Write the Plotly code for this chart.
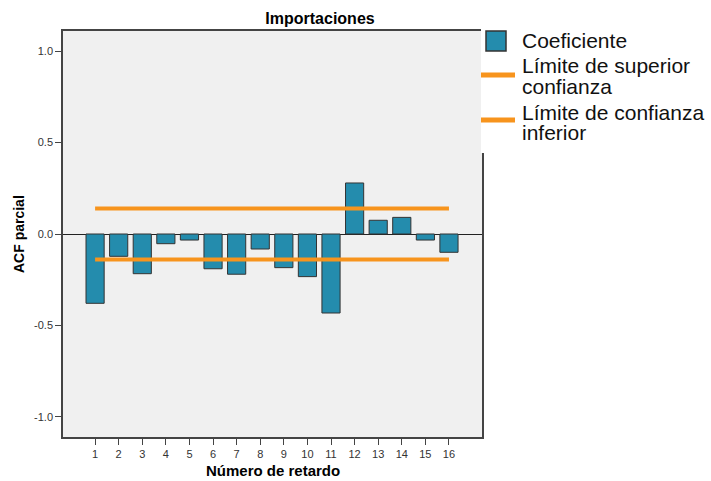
import plotly.graph_objects as go

lags = list(range(1, 17))
pacf = [-0.379, -0.122, -0.217, -0.053, -0.033, -0.190, -0.220, -0.082,
        -0.184, -0.233, -0.432, 0.279, 0.075, 0.091, -0.033, -0.100]
upper_limit = [0.14] * 16
lower_limit = [-0.14] * 16
y_tickvals = [-1.0, -0.5, 0.0, 0.5, 1.0]
y_ticktext = ["-1.0", "-0.5", "0.0", "0.5", "1.0"]
legend_labels = ["Coeficiente", "Límite de superior", "confianza",
                 "Límite de confianza", "inferior"]

BAR = "#248cad"
ORANGE = "#f7941d"
FONT = "Liberation Sans, Arial, sans-serif"

W, H = 711, 481
L, R, T, B = 63, 229, 31, 44
pw = W - L - R
ph = H - T - B


def px_x(x):
    return (x - L) / pw


def px_y(y):
    return (H - B - y) / ph


fig = go.Figure()
fig.add_trace(go.Bar(
    x=lags, y=pacf, width=0.77,
    marker=dict(color=BAR, line=dict(color="#333333", width=1)),
    name="Coeficiente",
))
fig.add_trace(go.Scatter(
    x=lags, y=upper_limit, mode="lines", name="Límite de superior confianza",
    line=dict(color=ORANGE, width=4),
))
fig.add_trace(go.Scatter(
    x=lags, y=lower_limit, mode="lines", name="Límite de confianza inferior",
    line=dict(color=ORANGE, width=4),
))

# hand-built legend (white box over the top-right of the frame)
shapes = [
    dict(type="rect", xref="paper", yref="paper", layer="above",
         x0=px_x(481), x1=px_x(720), y0=px_y(153), y1=px_y(-5),
         fillcolor="white", line=dict(width=0)),
    dict(type="rect", xref="paper", yref="paper", layer="above",
         x0=px_x(486), x1=px_x(506), y0=px_y(51), y1=px_y(31),
         fillcolor=BAR, line=dict(color="#333333", width=1.5)),
    dict(type="line", xref="paper", yref="paper", layer="above",
         x0=px_x(481), x1=px_x(515), y0=px_y(75), y1=px_y(75),
         line=dict(color=ORANGE, width=5)),
    dict(type="line", xref="paper", yref="paper", layer="above",
         x0=px_x(481), x1=px_x(515), y0=px_y(120), y1=px_y(120),
         line=dict(color=ORANGE, width=5)),
]
legend_ys = [41, 66, 86, 112, 132]
annotations = [
    dict(text=t, xref="paper", yref="paper", x=px_x(520), y=px_y(yy),
         xanchor="left", yanchor="middle", showarrow=False,
         font=dict(size=21, color="#111111", family=FONT))
    for t, yy in zip(legend_labels, legend_ys)
]
annotations += [
    dict(text="<b>ACF parcial</b>", xref="paper", yref="paper",
         x=px_x(19), y=0.5, textangle=-90, showarrow=False,
         xanchor="center", yanchor="middle",
         font=dict(size=14, color="#000000", family=FONT)),
    dict(text="<b>Número de retardo</b>", xref="paper", yref="paper",
         x=0.5, y=px_y(470), showarrow=False,
         xanchor="center", yanchor="middle",
         font=dict(size=15, color="#000000", family=FONT)),
]

fig.update_layout(
    width=W, height=H,
    margin=dict(l=L, r=R, t=T, b=B),
    paper_bgcolor="white",
    plot_bgcolor="#f0f0f0",
    font=dict(family=FONT, color="#222222"),
    showlegend=False,
    title=dict(
        text="<b>Importaciones</b>", x=px_x(320), xref="paper", xanchor="center",
        y=1 - 18 / H, yref="container", yanchor="middle",
        font=dict(size=16, color="#000000", family=FONT),
    ),
    xaxis=dict(
        range=[-0.36, 17.4], tickvals=lags, ticktext=[str(v) for v in lags],
        showgrid=False, zeroline=False, showline=True, linecolor="#444444", linewidth=1.5,
        mirror=True, ticks="outside", ticklen=6, tickcolor="#444444",
        tickfont=dict(size=11, color="#333333"),
    ),
    yaxis=dict(
        range=[-1.11, 1.11], tickvals=y_tickvals, ticktext=y_ticktext,
        showgrid=False, zeroline=True, zerolinecolor="#222222", zerolinewidth=1,
        showline=True, linecolor="#444444", linewidth=1.5, mirror=True,
        ticks="outside", ticklen=6, tickcolor="#444444",
        tickfont=dict(size=11, color="#333333"),
    ),
    shapes=shapes,
    annotations=annotations,
)

fig.write_html("out.html", config={"displayModeBar": False},
               post_script="document.body.style.margin='0';document.body.style.padding='0';")
